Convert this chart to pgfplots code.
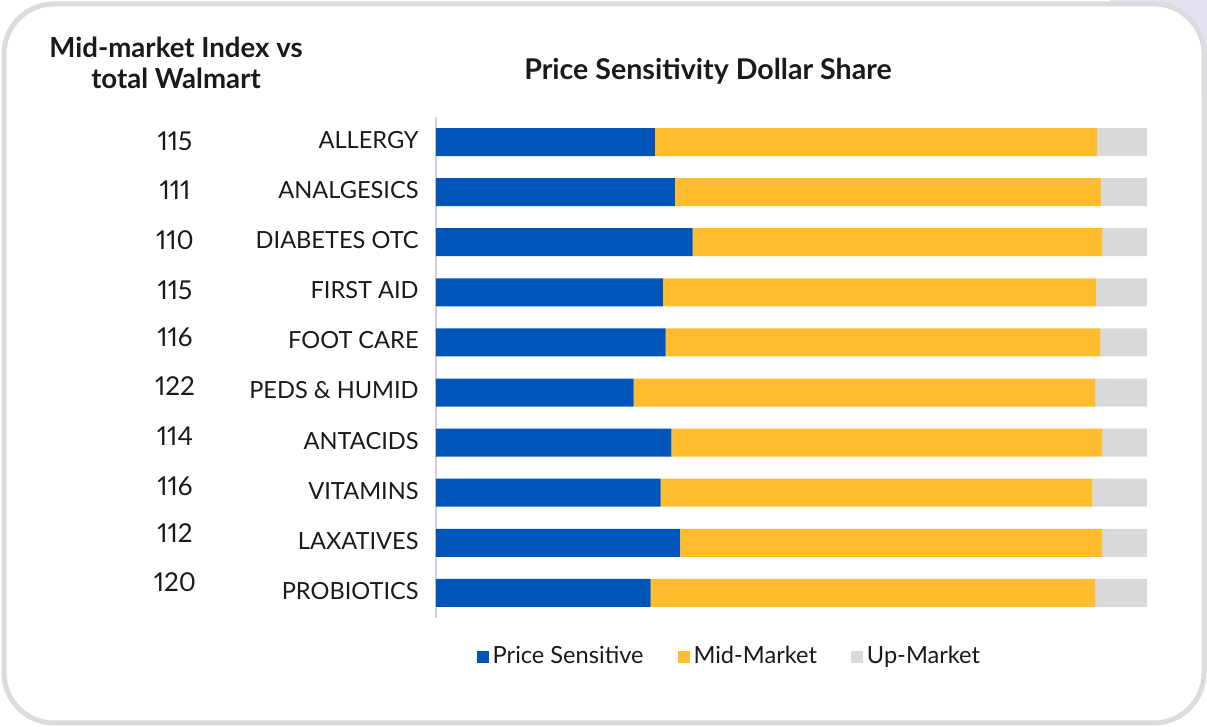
\documentclass[border=0pt]{standalone}
\usepackage{fontspec}
\setmainfont{Lato}[Numbers=Proportional]
\usepackage{pgfplots}
\pgfplotsset{compat=1.18}
\definecolor{psblue}{HTML}{0055B8}
\definecolor{midyel}{HTML}{FFBC2F}
\definecolor{upgrey}{HTML}{D9D9D9}
\definecolor{txt}{HTML}{1A1A1A}
\definecolor{framec}{HTML}{DCDCDC}
\definecolor{lav}{HTML}{E4E1F1}
\definecolor{axisc}{HTML}{CFCFE3}
\begin{document}
\begin{tikzpicture}[x=0.5pt,y=0.5pt]
\path[use as bounding box, fill=white] (0,0) rectangle (1207,727);
\fill[lav] (1110,727) rectangle (1207,630);
\draw[framec, line width=2.5pt, fill=white, rounded corners=25pt] (4,4) rectangle (1204,723);
\node[font=\bfseries\fontsize{14.3}{16}\selectfont, text=txt] at (708,656) {Price Sensitivity Dollar Share};
\node[font=\bfseries\fontsize{13.8}{15.5}\selectfont, text=txt, align=center] at (176,664) {Mid-market Index vs\\total Walmart};
\begin{axis}[
  at={(218pt,54.5pt)}, anchor=south west, scale only axis,
  width=355.5pt, height=250.5pt,
  xbar stacked, xmin=0, xmax=100, ymin=-0.5, ymax=9.5, y dir=reverse,
  bar width=14pt,
  axis x line=none, axis y line*=left,
  y axis line style={draw=axisc, line width=1pt, -},
  ytick={0,...,9},
  yticklabels={ALLERGY,ANALGESICS,DIABETES OTC,FIRST AID,FOOT CARE,PEDS \& HUMID,ANTACIDS,VITAMINS,LAXATIVES,PROBIOTICS},
  major tick length=0,
  yticklabel style={font=\fontsize{11.8}{13}\selectfont, text=txt, anchor=east, inner sep=0pt, xshift=-8.5pt, yshift=1pt},
  extra y ticks={-0.021,0.957,1.955,2.953,3.891,4.869,5.867,6.865,7.803,8.781},
  extra y tick labels={115,111,110,115,116,122,114,116,112,120},
  extra y tick style={yticklabel style={anchor=center, xshift=-122pt, yshift=-1pt, font=\fontsize{13}{15}\selectfont}},
  legend columns=3,
  legend cell align=left,
  legend style={draw=none, fill=none, at={(0.414,-0.076)}, anchor=center,
    font=\fontsize{11.8}{13}\selectfont, text=txt,
    /tikz/every even column/.append style={column sep=15pt}},
  legend image code/.code={\fill[#1] (0pt,-3.5pt) rectangle (6pt,2.5pt);},
  clip=false,
]
\addplot[fill=psblue, draw=none] coordinates {(30.8,0) (33.6,1) (36.1,2) (31.9,3) (32.3,4) (27.8,5) (33.1,6) (31.6,7) (34.3,8) (30.2,9)};
\addplot[fill=midyel, draw=none] coordinates {(62.2,0) (59.9,1) (57.6,2) (60.9,3) (61.1,4) (64.9,5) (60.6,6) (60.7,7) (59.4,8) (62.5,9)};
\addplot[fill=upgrey, draw=none] coordinates {(7.0,0) (6.5,1) (6.3,2) (7.2,3) (6.6,4) (7.3,5) (6.3,6) (7.7,7) (6.3,8) (7.3,9)};
\legend{Price Sensitive,Mid-Market,Up-Market}
\end{axis}
\end{tikzpicture}
\end{document}
